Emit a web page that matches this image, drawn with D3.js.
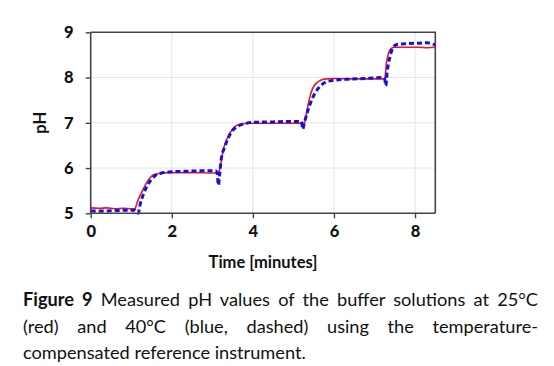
<!DOCTYPE html>
<html><head><meta charset="utf-8">
<script src="https://cdn.jsdelivr.net/npm/d3@7"></script>
<style>
html,body{margin:0;padding:0;background:#fff;}
#wrap{position:relative;width:554px;height:366px;overflow:hidden;}
#cap{position:absolute;left:23px;top:286px;width:515px;font-family:Lato,"Open Sans",sans-serif;font-size:18.2px;line-height:26.5px;color:#111;}
#cap div{white-space:nowrap;}
#cap .j{text-align:justify;text-align-last:justify;white-space:normal;}
#cap b{font-weight:700;}
</style></head>
<body><div id="wrap"><svg id="chart" width="554" height="366"></svg>
<div id="cap"><div class="j"><b>Figure 9</b> Measured pH values of the buffer solutions at 25°C</div><div class="j">(red) and 40°C (blue, dashed) using the temperature-</div><div>compensated reference instrument.</div></div></div>
<script>
const xTicks = [0, 2, 4, 6, 8];
const yTicks = [5, 6, 7, 8, 9];
const redTime = [0,0.2,0.4,0.6,0.8,1.0,1.09,1.15,1.25,1.35,1.45,1.55,1.7,1.9,2.2,2.6,3.0,3.15,3.2,3.27,3.35,3.45,3.56,3.7,3.9,4.3,4.8,5.27,5.32,5.4,5.47,5.55,5.65,5.8,6.0,6.5,7.0,7.25,7.3,7.35,7.42,7.5,7.8,8.1,8.3,8.5];
const redPH = [5.12,5.11,5.12,5.10,5.11,5.10,5.10,5.25,5.45,5.63,5.77,5.85,5.88,5.90,5.90,5.90,5.89,5.89,6.05,6.40,6.62,6.80,6.92,6.97,6.99,6.99,6.99,6.99,7.20,7.55,7.75,7.86,7.93,7.97,7.98,7.97,7.97,7.97,8.35,8.55,8.65,8.67,8.67,8.67,8.66,8.67];
const blueTime = [0,0.3,0.6,0.9,1.1,1.14,1.17,1.22,1.3,1.4,1.5,1.6,1.75,2.0,2.4,2.8,3.08,3.12,3.15,3.18,3.22,3.3,3.4,3.5,3.62,3.8,4.0,4.5,5.0,5.2,5.23,5.27,5.35,5.45,5.55,5.65,5.8,6.0,6.3,6.8,7.2,7.25,7.28,7.31,7.38,7.45,7.55,7.8,8.1,8.3,8.4,8.5];
const bluePH = [5.05,5.05,5.06,5.07,5.07,5.02,5.00,5.20,5.42,5.62,5.75,5.84,5.89,5.92,5.93,5.94,5.94,5.88,5.62,5.85,6.20,6.45,6.68,6.83,6.92,6.98,7.01,7.02,7.03,7.03,6.86,7.00,7.25,7.50,7.68,7.80,7.90,7.94,7.96,7.98,8.00,7.98,7.82,8.10,8.45,8.65,8.73,8.75,8.76,8.77,8.75,8.72];

const svg = d3.select("#chart");
const L = 90.7, T = 32.3, R = 435.3, B = 213.3;
const x = d3.scaleLinear().domain([0, 8.5]).range([L, R]);
const y = d3.scaleLinear().domain([5, 9]).range([B, T]);
const font = "Lato, 'Open Sans', sans-serif";

svg.append("g").selectAll("line").data(xTicks.slice(1)).join("line")
  .attr("x1", d => x(d)).attr("x2", d => x(d)).attr("y1", T).attr("y2", B)
  .attr("stroke", "#e4e4e4").attr("stroke-width", 1);
svg.append("g").selectAll("line").data(yTicks.slice(1, -1)).join("line")
  .attr("x1", L).attr("x2", R).attr("y1", d => y(d)).attr("y2", d => y(d))
  .attr("stroke", "#e4e4e4").attr("stroke-width", 1);

svg.append("path").attr("d", `M${L},${T}H${R}V${B}`).attr("fill", "none")
  .attr("stroke", "#444").attr("stroke-width", 1.6);

svg.append("defs").append("clipPath").attr("id", "clip").append("rect")
  .attr("x", L).attr("y", T - 5).attr("width", R - L).attr("height", B - T + 10);

const line = d3.line().x(d => x(d[0])).y(d => y(d[1])).curve(d3.curveMonotoneX);
const red = d3.zip(redTime, redPH), blue = d3.zip(blueTime, bluePH);
const g = svg.append("g").attr("clip-path", "url(#clip)");
g.append("path").datum(red).attr("d", line).attr("fill", "none")
  .attr("stroke", "#f0141e").attr("stroke-width", 1.6);
g.append("path").datum(blue).attr("d", line).attr("fill", "none")
  .attr("stroke", "#1010e6").attr("stroke-width", 3).attr("stroke-dasharray", "5,3");

const xAxis = svg.append("g").attr("transform", `translate(0,${B})`)
  .call(d3.axisBottom(x).tickValues(xTicks).tickSize(5).tickPadding(7).tickFormat(d3.format("d")));
const yAxis = svg.append("g").attr("transform", `translate(${L},0)`)
  .call(d3.axisLeft(y).tickValues(yTicks).tickSize(5).tickPadding(12).tickFormat(d3.format("d")));
[xAxis, yAxis].forEach(a => {
  a.select(".domain").attr("stroke", "#444").attr("stroke-width", 1.6);
  a.selectAll(".tick line").attr("stroke", "#444").attr("stroke-width", 1.4);
  a.selectAll("text").attr("font-family", font).attr("font-weight", 900)
    .attr("font-size", 16.5).attr("fill", "#111");
});
xAxis.select(".domain").attr("d", `M${L},0H${R}`);
yAxis.select(".domain").attr("d", `M0,${T}V${B}`);

svg.append("text").attr("x", (L + R) / 2).attr("y", 268).attr("text-anchor", "middle")
  .attr("font-family", font).attr("font-weight", 700).attr("font-size", 16.5).attr("fill", "#111")
  .text("Time [minutes]");
svg.append("text").attr("transform", `translate(46,${(T + B) / 2}) rotate(-90)`)
  .attr("text-anchor", "middle").attr("font-family", font).attr("font-weight", 700)
  .attr("font-size", 16.5).attr("fill", "#111").text("pH");
</script></body></html>
